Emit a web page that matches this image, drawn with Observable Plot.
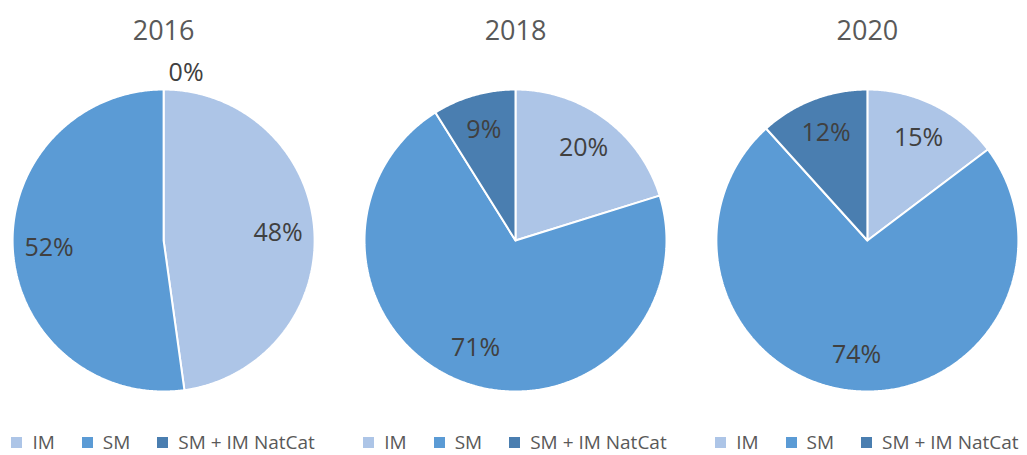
<!DOCTYPE html>
<html>
<head>
<meta charset="utf-8">
<script src="https://cdn.jsdelivr.net/npm/d3@7"></script>
<script src="https://cdn.jsdelivr.net/npm/@observablehq/plot@0.6"></script>
<style>
  body { margin: 0; background: #fff; }
  #legends { display: flex; height: 26px; }
  #legends > div { display: flex; justify-content: center; align-items: center; height: 26px; }
  .lg-swatches { font-family: "Open Sans", sans-serif !important; font-size: 19px !important; line-height: 26px !important; color: #595959 !important; min-height: 26px !important; margin: 0 !important; flex-wrap: nowrap !important; white-space: nowrap; }
  .lg-swatch { margin-right: 27px !important; }
  .lg-swatch:last-child { margin-right: 0 !important; }
  .lg-swatch > svg { margin-right: 10px !important; }
</style>
</head>
<body>
<div id="chart"></div>
<div id="legends"></div>
<script>
// ---- data ----
const years = ["2016", "2018", "2020"];
const series = ["IM", "SM", "SM + IM NatCat"];
const im = [47.8, 20.2, 14.7];
const sm = [52.2, 70.9, 73.6];
const natcat = [0, 8.9, 11.7];
const colors = ["#adc5e7", "#5b9bd5", "#4a7eb0"];

// ---- layout constants ----
const W = 1027, H = 429, ML = 3, R = 151, CY = 240;
const padInner = 0.09;
const step = (W - ML) / (years.length - padInner);
const bw = step * (1 - padInner);
const xr = bw / 2 / R;

// ---- build slices ----
const rows = [];
years.forEach((yr, i) => {
  const vals = [im[i], sm[i], natcat[i]];
  const total = d3.sum(vals);
  let acc = 0;
  vals.forEach((v, j) => {
    const a0 = acc / total * 2 * Math.PI;
    acc += v;
    const a1 = acc / total * 2 * Math.PI;
    rows.push({year: yr, series: series[j], value: v, a0, a1});
  });
});

const pts = [];
rows.filter(r => r.value > 0).forEach(r => {
  const key = r.year + "|" + r.series;
  pts.push({year: r.year, series: r.series, key, x: 0, y: 0});
  const n = Math.max(2, Math.ceil((r.a1 - r.a0) / (Math.PI / 360)));
  for (let k = 0; k <= n; k++) {
    const a = r.a0 + (r.a1 - r.a0) * k / n;
    pts.push({year: r.year, series: r.series, key, x: Math.sin(a), y: Math.cos(a)});
  }
  pts.push({year: r.year, series: r.series, key, x: 0, y: 0});
});

const labs = rows.map(r => {
  const mid = (r.a0 + r.a1) / 2;
  const k = r.value > 0 ? 0.76 : 1.11;
  return {year: r.year, value: r.value, x: k * Math.sin(mid), y: k * Math.cos(mid), text: Math.round(r.value) + "%"};
});

const chart = Plot.plot({
  width: W, height: H,
  marginLeft: ML, marginRight: 0, marginTop: 0, marginBottom: 0,
  style: {fontFamily: "Open Sans, sans-serif", background: "#fff"},
  fx: {domain: years, paddingInner: padInner, paddingOuter: 0, round: false, axis: null, label: null},
  x: {domain: [-xr, xr], axis: null},
  y: {domain: [-(H - CY) / R, CY / R], axis: null},
  color: {domain: series, range: colors},
  marks: [
    Plot.line(pts, {fx: "year", x: "x", y: "y", z: "key", fill: "series", stroke: "white", strokeWidth: 2, strokeLinejoin: "miter"}),
    Plot.text(labs.filter(d => d.value > 0), {fx: "year", x: "x", y: "y", text: "text", fontSize: 25, fill: "#404040"}),
    Plot.text(labs.filter(d => d.value === 0), {fx: "year", x: "x", y: "y", text: "text", fontSize: 25, fill: "#404040", textAnchor: "start", dx: 5}),
    Plot.text(years, {fx: d => d, text: d => d, frameAnchor: "top", lineAnchor: "middle", dy: 31, fontSize: 27, fill: "#595959"})
  ]
});
document.getElementById("chart").appendChild(chart);
chart.style.display = "block";

const legends = document.getElementById("legends");
legends.style.marginLeft = ML + "px";
legends.style.gap = (step - bw) + "px";
years.forEach(() => {
  const col = document.createElement("div");
  col.style.width = bw + "px";
  col.appendChild(Plot.legend({color: {domain: series, range: colors}, legend: "swatches", swatchSize: 11, className: "lg"}));
  legends.appendChild(col);
});
</script>
</body>
</html>
